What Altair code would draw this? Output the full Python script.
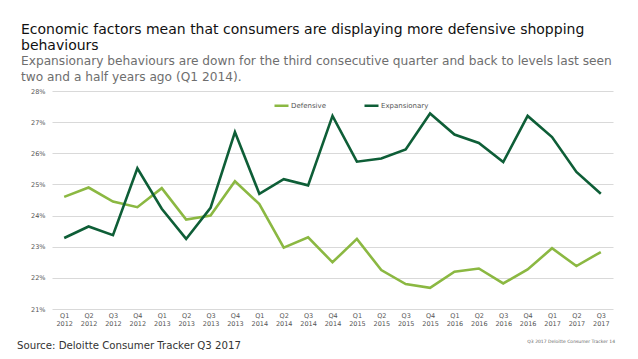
import altair as alt
import pandas as pd

quarters = [
    "Q1 2012", "Q2 2012", "Q3 2012", "Q4 2012",
    "Q1 2013", "Q2 2013", "Q3 2013", "Q4 2013",
    "Q1 2014", "Q2 2014", "Q3 2014", "Q4 2014",
    "Q1 2015", "Q2 2015", "Q3 2015", "Q4 2015",
    "Q1 2016", "Q2 2016", "Q3 2016", "Q4 2016",
    "Q1 2017", "Q2 2017", "Q3 2017",
]
defensive = [24.6, 24.9, 24.45, 24.27, 24.88, 23.87, 24.0, 25.1,
             24.37, 22.97, 23.3, 22.5, 23.25, 22.25, 21.8, 21.68,
             22.2, 22.3, 21.82, 22.27, 22.95, 22.38, 22.83]
expansionary = [23.28, 23.65, 23.37, 25.52, 24.22, 23.25, 24.25, 26.68,
                24.7, 25.17, 24.97, 27.2, 25.73, 25.83, 26.12, 27.28,
                26.6, 26.33, 25.72, 27.2, 26.52, 25.4, 24.7]
series_names = ["Defensive", "Expansionary"]
series_colors = ["#8BB842", "#0E5E37"]
y_ticks = [21, 22, 23, 24, 25, 26, 27, 28]

title_lines = ["Economic factors mean that consumers are displaying more defensive shopping",
               "behaviours"]
subtitle_lines = ["Expansionary behaviours are down for the third consecutive quarter and back to levels last seen",
                  "two and a half years ago (Q1 2014)."]
source_text = ["Source: Deloitte Consumer Tracker Q3 2017"]
footer_text = ["Q3 2017 Deloitte Consumer Tracker 14"]

rows = []
for q, d, e in zip(quarters, defensive, expansionary):
    rows.append({"quarter": q, "series": series_names[0], "value": d})
    rows.append({"quarter": q, "series": series_names[1], "value": e})
df = pd.DataFrame(rows)

FONT = "DejaVu Sans"

lines = alt.Chart(df).mark_line(strokeWidth=2.6).encode(
    x=alt.X("quarter:O", sort=quarters, title=None,
            scale=alt.Scale(padding=0.5),
            axis=alt.Axis(labelAngle=0, ticks=False, domain=False,
                          labelExpr="split(datum.label, ' ')",
                          labelFontSize=6.5, labelColor="#555555",
                          labelLineHeight=8, labelPadding=3, labelFont=FONT)),
    y=alt.Y("value:Q", title=None,
            scale=alt.Scale(domain=[21, 28], nice=False, zero=False),
            axis=alt.Axis(values=y_ticks, labelExpr="datum.value + '%'",
                          ticks=False, domain=False, gridColor="#d9d9d9",
                          labelFontSize=6.5, labelColor="#555555",
                          labelPadding=7, labelFont=FONT)),
    color=alt.Color("series:N", sort=series_names,
                    scale=alt.Scale(domain=series_names, range=series_colors),
                    legend=alt.Legend(title=None, orient="none", direction="horizontal",
                                      legendX=221, legendY=6,
                                      symbolType="stroke", symbolSize=196,
                                      symbolStrokeWidth=2.5, labelFontSize=7,
                                      labelColor="#555555", labelFont=FONT,
                                      labelOffset=1, columnPadding=33)),
)

src = alt.Chart(pd.DataFrame({"t": source_text})).mark_text(
    align="left", baseline="alphabetic", fontSize=10.2, font=FONT, color="#333333"
).encode(text="t:N", x=alt.value(-35), y=alt.value(258))

foot = alt.Chart(pd.DataFrame({"t": footer_text})).mark_text(
    align="right", baseline="alphabetic", fontSize=4.5, font=FONT, color="#666666"
).encode(text="t:N", x=alt.value(563), y=alt.value(252))

chart = alt.layer(lines, src, foot).properties(
    width=561, height=218,
    autosize=alt.AutoSizeParams(type="none"),
    padding={"left": 44, "top": 83, "right": 17, "bottom": 42},
    title=alt.TitleParams(text=title_lines, subtitle=subtitle_lines,
                          anchor="start", frame="group", dx=-31,
                          font=FONT, fontSize=14, fontWeight="normal",
                          color="#111111", lineHeight=15.5,
                          subtitleFont=FONT, subtitleFontSize=12.2,
                          subtitleColor="#6e6e6e", subtitleLineHeight=16,
                          subtitlePadding=2, offset=5),
).configure_view(stroke=None)

chart.save("out.html", embed_options={"renderer": "svg", "actions": False})
